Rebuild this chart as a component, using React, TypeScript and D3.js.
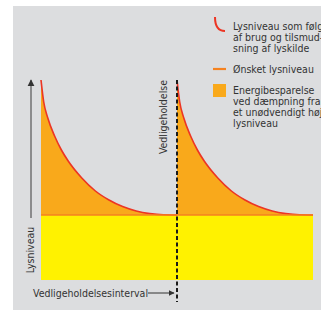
import React from "react";
import * as d3 from "d3";

// Time within one maintenance interval (0..1) and light level (0..100)
const cycleTimes = [0, 0.02, 0.05, 0.1, 0.15, 0.2, 0.3, 0.4, 0.5, 0.6, 0.7, 0.8, 0.9, 1.0];
const cycleLevels = [100, 89, 81, 72, 65, 59.5, 51, 44.5, 40, 36.7, 34.5, 33.2, 32.6, 32.5];
const desiredLevel = 32.5;
const cycles = [0, 1];
const legendCurve = ["Lysniveau som følge", "af brug og tilsmud-", "sning af lyskilde"];
const legendLine = ["Ønsket lysniveau"];
const legendArea = ["Energibesparelse", "ved dæmpning fra", "et unødvendigt højt", "lysniveau"];
const yLabel = "Lysniveau";
const maintLabel = "Vedligeholdelse";
const intervalLabel = "Vedligeholdelsesinterval";

const W = 321;
const H = 310;
const FONT = "'Liberation Sans Narrow', 'DejaVu Sans Condensed', sans-serif";

export default function App() {
  const x = d3.scaleLinear().domain([0, 2]).range([41, 313]);
  const y = d3.scaleLinear().domain([0, 100]).range([280, 80]);

  const pts = cycles.flatMap((c) =>
    cycleTimes.map((t, i) => ({ t: c + t, v: cycleLevels[i], c }))
  );

  const line = d3
    .line<{ t: number; v: number }>()
    .x((d) => x(d.t))
    .y((d) => y(d.v))
    .curve(d3.curveMonotoneX);
  const area = d3
    .area<{ t: number; v: number }>()
    .x((d) => x(d.t))
    .y0(y(desiredLevel))
    .y1((d) => y(d.v))
    .curve(d3.curveMonotoneX);

  const maintX = x(1);

  return (
    <svg
      width={W}
      height={H}
      style={{ position: "absolute", left: 0, top: 0 }}
      fontFamily={FONT}
    >
      <defs>
        <marker id="ah" viewBox="0 0 10 10" refX="9" refY="5" markerWidth="6" markerHeight="6" orient="auto">
          <path d="M0,0 L10,5 L0,10 z" fill="#333" />
        </marker>
      </defs>
      <rect x={13} y={6} width={W - 13} height={H - 6} fill="#dcdddf" />
      {/* yellow base region */}
      <rect
        x={x(0)}
        y={y(desiredLevel)}
        width={x(2) - x(0)}
        height={y(0) - y(desiredLevel)}
        fill="#fff200"
      />
      {cycles.map((c) => {
        const seg = pts.filter((p) => p.c === c);
        return (
          <g key={c}>
            <path d={area(seg) || ""} fill="#f9a91b" />
            <path d={line(seg) || ""} fill="none" stroke="#ec3524" strokeWidth={1.6} />
          </g>
        );
      })}
      {/* desired level line */}
      <line
        x1={x(0)}
        x2={x(2)}
        y1={y(desiredLevel)}
        y2={y(desiredLevel)}
        stroke="#f58220"
        strokeWidth={1.6}
      />
      {/* maintenance dashed line */}
      <line
        x1={maintX}
        x2={maintX}
        y1={y(100)}
        y2={302}
        stroke="#1a1a1a"
        strokeWidth={2}
        strokeDasharray="4,2.5"
      />
      <text
        transform={`translate(${maintX - 10},${y(100)}) rotate(-90)`}
        textAnchor="end"
        fontSize={10.5}
        fill="#333"
      >
        {maintLabel}
      </text>
      {/* y axis arrow */}
      <line x1={31} x2={31} y1={218} y2={80} stroke="#555" strokeWidth={1.2} markerEnd="url(#ah)" />
      <text
        transform={`translate(34,250) rotate(-90)`}
        textAnchor="middle"
        fontSize={10.5}
        fill="#333"
      >
        {yLabel}
      </text>
      {/* interval label */}
      <text x={33} y={297} fontSize={10.5} fill="#333">
        {intervalLabel}
      </text>
      <line x1={148} x2={174} y1={293} y2={293} stroke="#333" strokeWidth={1} markerEnd="url(#ah)" />
      {/* legend */}
      <path d="M215,17 C215,26 218,31 225,31" fill="none" stroke="#ec3524" strokeWidth={2} />
      {legendCurve.map((s, i) => (
        <text key={s} x={233} y={30 + i * 11} fontSize={10.5} fill="#333">
          {s}
        </text>
      ))}
      <line x1={213} x2={226} y1={69} y2={69} stroke="#f58220" strokeWidth={2.2} />
      {legendLine.map((s, i) => (
        <text key={s} x={233} y={73 + i * 11} fontSize={10.5} fill="#333">
          {s}
        </text>
      ))}
      <rect x={213} y={84} width={13} height={13} fill="#f9a91b" />
      {legendArea.map((s, i) => (
        <text key={s} x={233} y={94 + i * 11} fontSize={10.5} fill="#333">
          {s}
        </text>
      ))}
    </svg>
  );
}
